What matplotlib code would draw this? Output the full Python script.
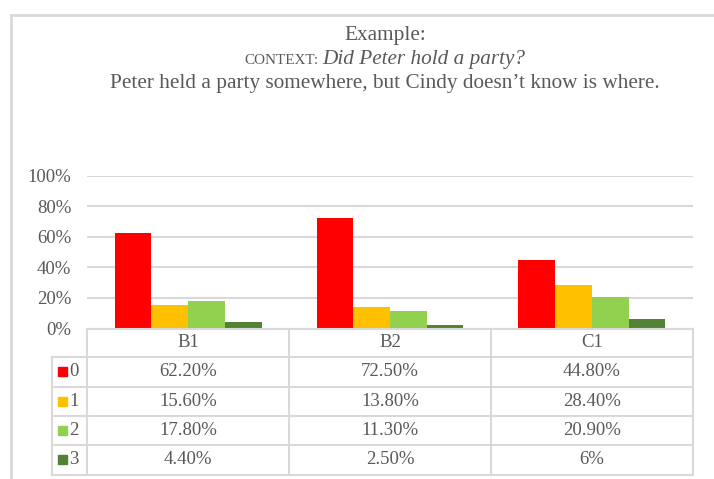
import matplotlib.pyplot as plt
from matplotlib.lines import Line2D
from matplotlib.patches import Rectangle
from matplotlib.transforms import blended_transform_factory

categories = ["B1", "B2", "C1"]
series_names = ["0", "1", "2", "3"]
values = [
    [62.2, 72.5, 44.8],   # 0
    [15.6, 13.8, 28.4],   # 1
    [17.8, 11.3, 20.9],   # 2
    [4.4, 2.5, 6.0],      # 3
]
cell_text = [
    ["62.20%", "72.50%", "44.80%"],
    ["15.60%", "13.80%", "28.40%"],
    ["17.80%", "11.30%", "20.90%"],
    ["4.40%", "2.50%", "6%"],
]
yticks = [0, 20, 40, 60, 80, 100]
colors = ["#FF0000", "#FFC000", "#92D050", "#548235"]

W, H = 714, 479
TXT = "#595959"
GRID = "#D9D9D9"
SERIF = ["Liberation Serif", "DejaVu Serif"]

plt.rcParams["font.family"] = SERIF

fig = plt.figure(figsize=(W / 100, H / 100), dpi=100)


def fy(py):
    # pixel row measured from the top -> figure fraction
    return 1 - py / H


def fx(px):
    return px / W


# plot area
left, right = 87.3, 692.7
top, bottom = 175.5, 328.5
ax = fig.add_axes([fx(left), fy(bottom), fx(right - left), (bottom - top) / H])
ax.set_xlim(-0.5, 2.5)
ax.set_ylim(0, 100)

bw = 0.182
for i, (name, vals) in enumerate(zip(series_names, values)):
    xs = [c + (i - 1.5) * bw for c in range(len(categories))]
    ax.bar(xs, vals, width=bw, color=colors[i], zorder=3)

ax.set_yticks(yticks)
ax.set_yticklabels([f"{t}%" for t in yticks], fontsize=13.5, color=TXT)
ax.tick_params(axis="y", length=0, pad=11.5)
ax.set_xticks([])
ax.grid(axis="y", color=GRID, lw=1.5, zorder=0)
for s in ax.spines.values():
    s.set_visible(False)

# data table under the plot
tr = blended_transform_factory(ax.transData, fig.transFigure)
col_edges = [-0.5, 0.5, 1.5, 2.5]
legend_left = -0.5 - (left - 51.7) / ((right - left) / 3)
row_h = 29.3
header_bot = bottom + 28.8
row_edges = [header_bot + k * row_h for k in range(5)]

lkw = dict(color=GRID, lw=1.5, transform=tr, clip_on=False)
fig.add_artist(Line2D([col_edges[0], col_edges[-1]], [fy(bottom)] * 2, **lkw))
for x in col_edges:
    fig.add_artist(Line2D([x, x], [fy(bottom), fy(row_edges[-1])], **lkw))
for y in row_edges:
    fig.add_artist(Line2D([legend_left, col_edges[-1]], [fy(y)] * 2, **lkw))
fig.add_artist(Line2D([legend_left] * 2, [fy(row_edges[0]), fy(row_edges[-1])], **lkw))

for j, cat in enumerate(categories):
    fig.text(j, fy((bottom + header_bot) / 2), cat, transform=tr,
             ha="center", va="center", fontsize=13.5, color=TXT)

for i, name in enumerate(series_names):
    yc = fy(row_edges[i] + row_h / 2)
    for j in range(len(categories)):
        fig.text(j, yc, cell_text[i][j], transform=tr,
                 ha="center", va="center", fontsize=13.5, color=TXT)
    sq = 9
    fig.add_artist(Rectangle((fx(58), yc - sq / 2 / H), sq / W, sq / H,
                             color=colors[i], transform=fig.transFigure))
    fig.text(fx(69.5), yc, name, ha="left", va="center", fontsize=13.5, color=TXT)

# title block
cx = 385
fig.text(fx(cx), fy(35.5), "Example:", ha="center", va="center", fontsize=15.3, color=TXT)
ctx = fig.text(0, fy(64), "CONTEXT:", ha="left", va="baseline", fontsize=10.9, color=TXT)
q = fig.text(0, fy(64), "Did Peter hold a party?", ha="left", va="baseline",
             fontsize=15.3, style="italic", color=TXT)
rend = fig.canvas.get_renderer()
w1 = ctx.get_window_extent(rend).width
w2 = q.get_window_extent(rend).width
gap = 4
x0 = cx - (w1 + gap + w2) / 2
ctx.set_x(fx(x0))
q.set_x(fx(x0 + w1 + gap))
fig.text(fx(cx), fy(83.5), "Peter held a party somewhere, but Cindy doesn\u2019t know is where.",
         ha="center", va="center", fontsize=15.3, color=TXT)

# chart frame
fig.add_artist(Line2D([fx(11), 1], [fy(14.5)] * 2, color=GRID, lw=2))
fig.add_artist(Line2D([fx(11)] * 2, [fy(14.5), 0], color=GRID, lw=2))

fig.savefig("out.png", dpi=100, facecolor="white")
